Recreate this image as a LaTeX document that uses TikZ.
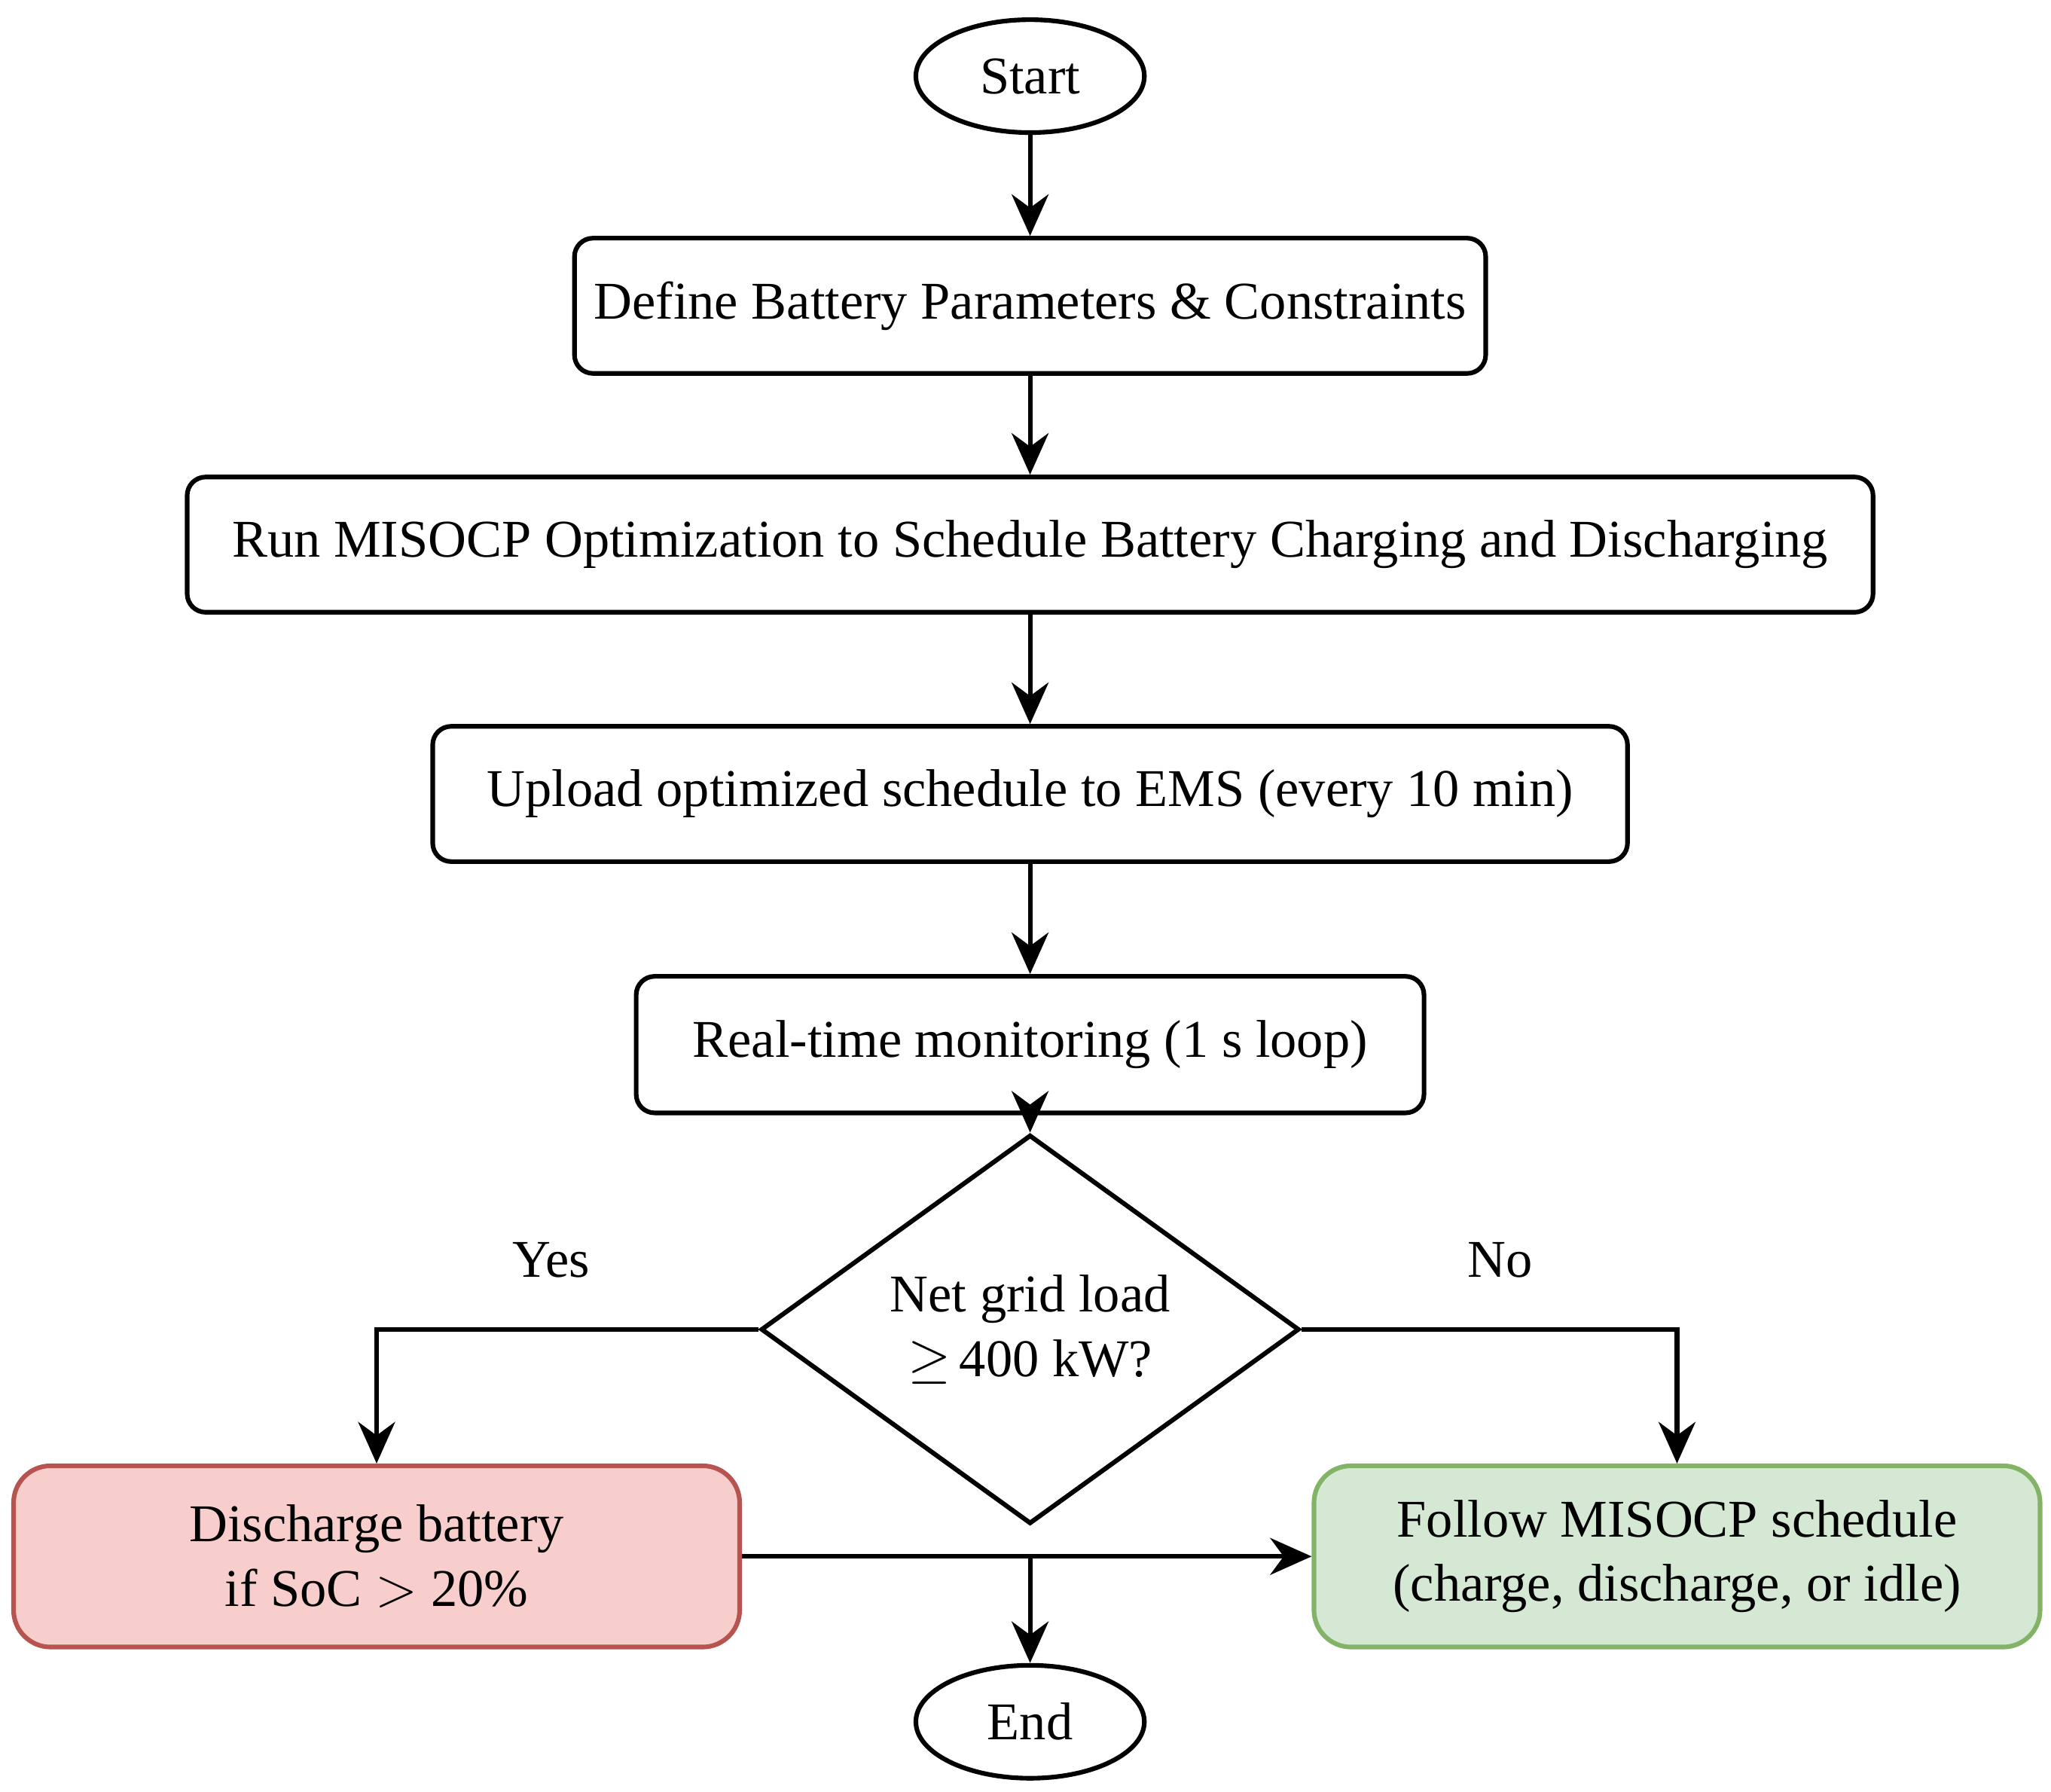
\documentclass[tikz,border=0pt]{standalone}
\usepackage{fontspec}
\setmainfont{Liberation Serif}
\usetikzlibrary{shapes.geometric,arrows.meta}
\begin{document}
\begin{tikzpicture}[x=0.01cm,y=-0.01cm,
  every node/.style={font=\fontsize{11.5}{14}\selectfont},
  box/.style={draw,line width=1pt,rounded corners=4pt,inner sep=0pt},
  term/.style={draw,ellipse,line width=1pt,minimum width=1.74cm,minimum height=0.86cm,inner sep=0pt},
  arr/.style={line width=1pt,-{Stealth[length=9pt,width=8pt]}}]
\useasboundingbox (0,0) rectangle (1563,1365);
\node[term] (start) at (785,58) {Start};
\node[box,minimum width=6.94cm,minimum height=1.03cm] (def) at (785,233) {Define Battery Parameters \& Constraints};
\node[box,minimum width=12.84cm,minimum height=1.03cm] (run) at (785,415) {Run MISOCP Optimization to Schedule Battery Charging and Discharging};
\node[box,minimum width=9.1cm,minimum height=1.03cm] (up) at (785,605) {Upload optimized schedule to EMS (every 10 min)};
\node[box,minimum width=6.0cm,minimum height=1.04cm] (rt) at (785,796) {Real-time monitoring (1 s loop)};
\node[draw,diamond,line width=1pt,minimum width=4.1cm,minimum height=1.92cm,inner sep=0pt,align=center] (dec) at (785,1013) {Net grid load\\$\geq$\,400 kW?};
\node[box,fill=red!20!pink!60,fill={rgb,255:red,248;green,206;blue,204},draw={rgb,255:red,184;green,84;blue,80},minimum width=5.53cm,minimum height=1.38cm,align=center,rounded corners=8pt] (dis) at (287,1186) {Discharge battery\\if SoC $>$ 20\%};
\node[box,fill={rgb,255:red,213;green,232;blue,212},draw={rgb,255:red,130;green,179;blue,102},minimum width=5.53cm,minimum height=1.38cm,align=center,rounded corners=8pt] (fol) at (1278,1186) {Follow MISOCP schedule\\(charge, discharge, or idle)};
\node[term] (end) at (785,1312) {End};
\coordinate (m) at (785,1186);
\draw[arr] (start) -- (def);
\draw[arr] (def) -- (run);
\draw[arr] (run) -- (up);
\draw[arr] (up) -- (rt);
\draw[arr] (rt) -- (dec);
\draw[arr] (dec.west) -| (dis.north);
\draw[arr] (dec.east) -| (fol.north);
\draw[arr] (dis.east) -- (fol.west);
\draw[arr] (m) -- (end);
\node (yes) at (420,960) {Yes};
\node (no) at (1143,960) {No};
\end{tikzpicture}
\end{document}
